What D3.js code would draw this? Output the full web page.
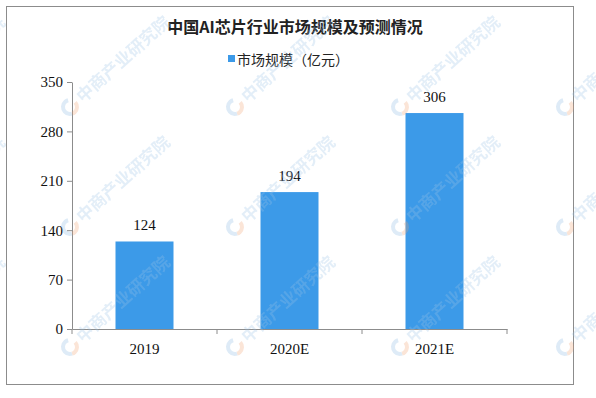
<!DOCTYPE html>
<html>
<head>
<meta charset="utf-8">
<script src="https://cdn.jsdelivr.net/npm/d3@7"></script>
<style>
  body { margin: 0; background: #fff; }
  svg { display: block; }
</style>
</head>
<body>
<svg id="chart" width="596" height="398"></svg>
<script>
// data
var years = ["2019", "2020E", "2021E"],
    sizes = [124, 194, 306],
    yTicks = [0, 70, 140, 210, 280, 350];

var svg = d3.select("#chart");

var margin = {left: 72, right: 507, top: 82, bottom: 329};

var x = d3.scaleBand()
  .domain(years)
  .range([margin.left, margin.right])
  .paddingInner(0.6)
  .paddingOuter(0.3);

var y = d3.scaleLinear()
  .domain([0, 350])
  .range([margin.bottom, margin.top]);

// faint watermark (drawn first, bars sit on top like the reference's overlay is light anyway)
var wm = svg.append("g").attr("opacity", 0.28).attr("pointer-events", "none");
var cols = [-95, 70, 235, 400, 565],
    rows = [107, 227, 347];

// outer frame
svg.append("rect")
  .attr("x", 6.5).attr("y", 6.5)
  .attr("width", 567).attr("height", 378)
  .attr("fill", "none")
  .attr("stroke", "#8c8c8c");

// title + legend
svg.append("text")
  .attr("x", 295).attr("y", 33)
  .attr("text-anchor", "middle")
  .attr("font-family", "'Noto Sans CJK SC'")
  .attr("font-weight", "bold")
  .attr("font-size", 16)
  .attr("fill", "#222")
  .text("中国AI芯片行业市场规模及预测情况");

svg.append("rect")
  .attr("x", 228).attr("y", 55)
  .attr("width", 7).attr("height", 7)
  .attr("fill", "#3c9ae8");
svg.append("text")
  .attr("x", 237).attr("y", 65)
  .attr("font-family", "'Noto Sans CJK SC'")
  .attr("font-size", 14)
  .attr("fill", "#222")
  .text("市场规模（亿元）");

// bars
svg.append("g").selectAll("rect")
  .data(sizes)
  .enter()
  .append("rect")
  .attr("x", (d, i) => x(years[i]))
  .attr("y", (d) => y(d))
  .attr("width", x.bandwidth())
  .attr("height", (d) => y(0) - y(d))
  .attr("fill", "#3c9ae8");

// value labels
svg.append("g").selectAll("text")
  .data(sizes)
  .enter()
  .append("text")
  .attr("x", (d, i) => x(years[i]) + x.bandwidth() / 2)
  .attr("y", (d) => y(d) - 11)
  .attr("text-anchor", "middle")
  .attr("font-family", "'Liberation Serif'")
  .attr("font-size", 15)
  .attr("fill", "#111")
  .text((d) => d);

// y axis
var yAxis = svg.append("g")
  .attr("transform", "translate(" + margin.left + ",0)")
  .call(d3.axisLeft(y).tickValues(yTicks).tickSize(5).tickPadding(4).tickSizeOuter(0));

// x axis with ticks at category boundaries
var xAxis = svg.append("g")
  .attr("transform", "translate(0," + y(0) + ")")
  .call(d3.axisBottom(x).tickSize(0).tickPadding(14).tickSizeOuter(0));

var step = x.step();
xAxis.selectAll(".bound")
  .data(years)
  .enter()
  .append("line")
  .attr("x1", (d) => x(d) + step * 0.7)
  .attr("x2", (d) => x(d) + step * 0.7)
  .attr("y1", 0).attr("y2", 5)
  .attr("stroke", "#8c8c8c");
xAxis.append("line")
  .attr("x1", margin.left).attr("x2", margin.left)
  .attr("y1", 0).attr("y2", 5)
  .attr("stroke", "#8c8c8c");

[yAxis, xAxis].forEach(function(g) {
  g.select(".domain").attr("stroke", "#8c8c8c");
  g.selectAll(".tick line").attr("stroke", "#8c8c8c");
  g.selectAll(".tick text")
    .attr("font-family", "'Liberation Serif'")
    .attr("font-size", 15)
    .attr("fill", "#111");
});

// watermark on top, very light
wm.raise();
rows.forEach(function(ry) {
  cols.forEach(function(cx) {
    var g = wm.append("g").attr("transform", "translate(" + cx + "," + ry + ") rotate(-42)");
    g.append("circle").attr("cx", 0).attr("cy", 0).attr("r", 7)
      .attr("fill", "none").attr("stroke", "#f0a070").attr("stroke-width", 4)
      .attr("stroke-dasharray", "14 30");
    g.append("circle").attr("cx", 0).attr("cy", 0).attr("r", 7)
      .attr("fill", "none").attr("stroke", "#8ab8e0").attr("stroke-width", 4)
      .attr("stroke-dasharray", "0 14 22 8");
    g.append("text").attr("x", 12).attr("y", 6)
      .attr("font-family", "'Noto Sans CJK SC'")
      .attr("font-weight", "bold")
      .attr("font-size", 17)
      .attr("fill", "#9cc3e6")
      .text("中商产业研究院");
  });
});
</script>
</body>
</html>
